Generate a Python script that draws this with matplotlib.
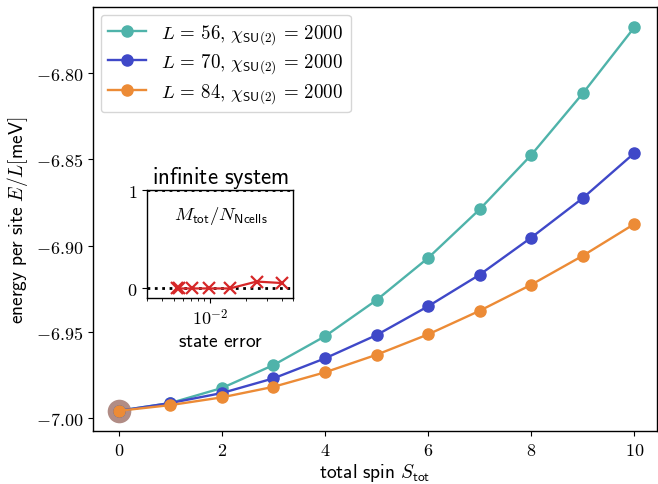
import matplotlib
matplotlib.use('Agg')
import matplotlib.pyplot as plt
import matplotlib.ticker as ticker
import numpy as np

plt.rcParams.update({
    'mathtext.fontset': 'cm',
    'font.family': 'DejaVu Sans',
    'font.size': 13,
    'axes.linewidth': 1.0,
})

# total spin values
spin = [0, 1, 2, 3, 4, 5, 6, 7, 8, 9, 10]

# energy per site for each system length
e_L56 = [-6.9958, -6.9913, -6.9826, -6.9693, -6.9526, -6.9316, -6.9072,
         -6.8790, -6.8475, -6.8118, -6.7735]
e_L70 = [-6.9958, -6.9913, -6.9855, -6.9770, -6.9654, -6.9519, -6.9352,
         -6.9169, -6.8954, -6.8725, -6.8464]
e_L84 = [-6.9958, -6.9925, -6.9880, -6.9819, -6.9735, -6.9633, -6.9515,
         -6.9378, -6.9227, -6.9059, -6.8875]

# ground state highlight
gs_spin = [0]
gs_energy = [-6.9958]

# inset: infinite system magnetisation vs state error
state_err = [5.27e-3, 5.54e-3, 7.03e-3, 9.87e-3, 1.47e-2, 2.46e-2, 3.98e-2]
m_tot = [0.0, 0.0, 0.0, 0.0, 0.0, 0.07, 0.055]

series = [
    (56, e_L56, '#4fb3aa'),
    (70, e_L70, '#3f48c8'),
    (84, e_L84, '#ec8b36'),
]

fig = plt.figure(figsize=(6.58, 4.85), dpi=100)
ax = fig.add_axes([0.1413, 0.1093, 0.8572, 0.8742])

ax.plot(gs_spin, gs_energy, 'o', color='#8c564b', alpha=0.68,
        markersize=17, markeredgewidth=0, zorder=1)
for L, e, c in series:
    ax.plot(spin, e, '-o', color=c, lw=1.7, markersize=8,
            label=r'$L\,=\,%d,\,\chi_{\mathsf{SU(2)}}\,=\,2000$' % L, zorder=3)

ax.set_xlim(-0.5, 10.44)
ax.set_ylim(-7.0075, -6.7617)
ax.xaxis.set_major_locator(ticker.MultipleLocator(2))
ax.yaxis.set_major_locator(ticker.MultipleLocator(0.05))
ax.xaxis.set_major_formatter(ticker.FuncFormatter(lambda v, p: r'$%d$' % v))
ax.yaxis.set_major_formatter(ticker.FuncFormatter(lambda v, p: r'$%.2f$' % v))
ax.set_xlabel(r'$\mathsf{total\ spin}\ S_{\mathsf{tot}}$', fontsize=14, labelpad=2)
ax.set_ylabel(r'$\mathsf{energy\ per\ site}\ E/L[\mathsf{meV}]$', fontsize=14)
ax.legend(loc='upper left', handlelength=2.0, borderaxespad=0.4,
          fontsize=13.6, labelspacing=0.3)

# inset
ins = fig.add_axes([0.2239, 0.3829, 0.2221, 0.2233])
ins.plot(state_err, m_tot, '-x', color='#d62728', lw=1.6, markersize=9,
         markeredgewidth=1.6, zorder=3)
ins.axhline(0, color='black', ls=':', lw=2, zorder=2)
ins.axhline(1, color='black', ls=':', lw=2, zorder=2)
ins.set_xscale('log')
ins.set_xlim(3e-3, 5e-2)
ins.set_ylim(-0.1, 1.0)
ins.set_yticks([0, 1])
ins.yaxis.set_major_formatter(ticker.FuncFormatter(lambda v, p: r'$%d$' % v))
ins.xaxis.set_major_locator(ticker.FixedLocator([1e-2]))
ins.xaxis.set_major_formatter(ticker.FuncFormatter(lambda v, p: r'$10^{-2}$'))
ins.set_xlabel(r'$\mathsf{state\ error}$', fontsize=14, labelpad=2)
ins.set_title(r'$\mathsf{infinite\ system}$', fontsize=16.5, pad=4)
ins.text(0.5, 0.77, r'$M_{\mathsf{tot}}/N_{\mathsf{Ncells}}$', transform=ins.transAxes,
         ha='center', va='center', fontsize=13.5)

fig.savefig('out.png', dpi=100)
